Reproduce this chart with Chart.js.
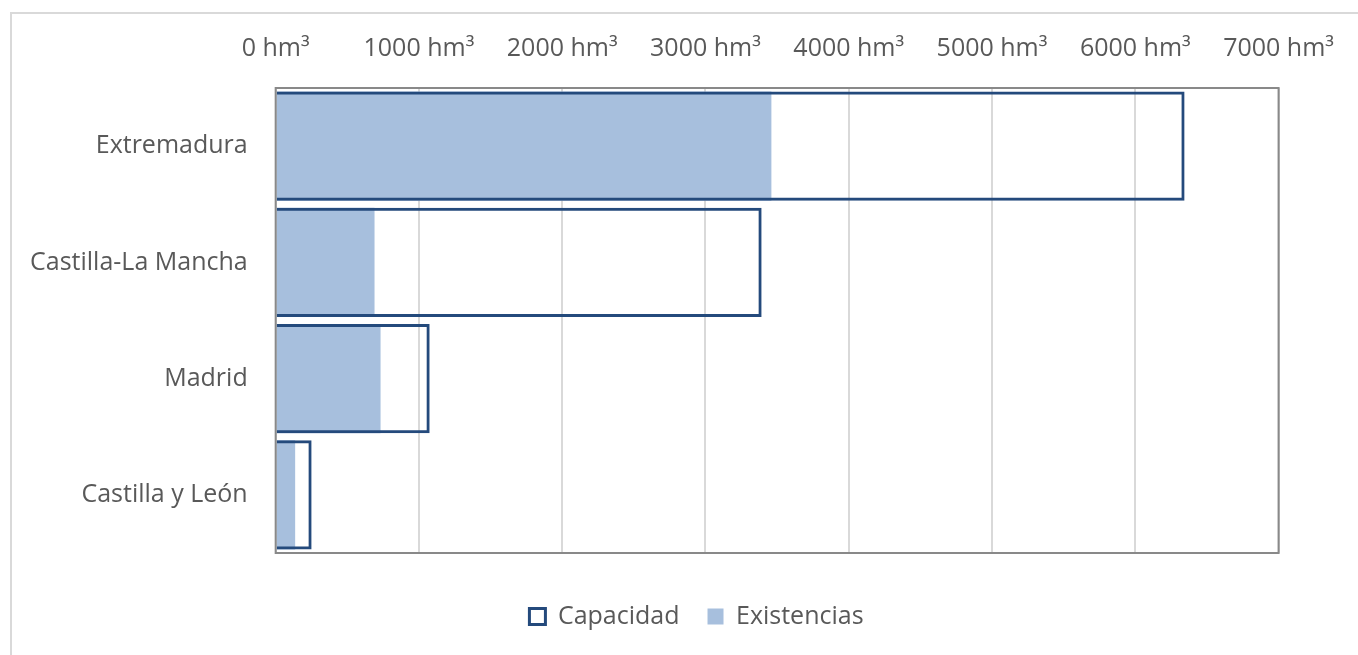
<!DOCTYPE html>
<html>
<head>
<meta charset="utf-8">
<script src="https://cdn.jsdelivr.net/npm/chart.js@4"></script>
<style>
  html, body { margin: 0; padding: 0; background: #fff; }
  body { width: 1358px; height: 655px; position: relative; overflow: hidden; }
  .frame { position: absolute; left: 10px; top: 12px; width: 1400px; height: 700px;
           border-left: 2px solid #d9d9d9; border-top: 2px solid #d9d9d9; }
  .wrap { position: absolute; left: 0; top: 0; width: 1358px; height: 655px; }
</style>
</head>
<body>
<div class="frame"></div>
<div class="wrap"><canvas id="reservoirChart"></canvas></div>
<script>
// Data
const regions = ['Extremadura', 'Castilla-La Mancha', 'Madrid', 'Castilla y León'];
const capacidad = [6344, 3392, 1075, 251];
const existencias = [3460, 690, 732, 136];
const xTicks = [0, 1000, 2000, 3000, 4000, 5000, 6000, 7000];

const textColor = '#595959';
const fontFamily = "'Open Sans', sans-serif";

// Draw the grey box round the plot area
const plotBorder = {
  id: 'plotBorder',
  afterDatasetsDraw(chart) {
    const { ctx, chartArea } = chart;
    ctx.save();
    ctx.strokeStyle = '#898989';
    ctx.lineWidth = 2;
    ctx.strokeRect(chartArea.left, chartArea.top, chartArea.right - chartArea.left, chartArea.bottom - chartArea.top);
    ctx.restore();
  }
};

// nudge the legend a bit to the right, like the original
const legendShift = {
  id: 'legendShift',
  afterLayout(chart) {
    chart.legend.left += 28;
    chart.legend.right += 28;
  }
};

const ctx = document.getElementById('reservoirChart').getContext('2d');
new Chart(ctx, {
  type: 'bar',
  data: {
    labels: regions,
    datasets: [
      {
        label: 'Capacidad',
        data: capacidad,
        backgroundColor: 'rgba(255,255,255,0)',
        borderColor: '#244a7c',
        borderWidth: 3,
        grouped: false,
        barPercentage: 0.94,
        categoryPercentage: 1
      },
      {
        label: 'Existencias',
        data: existencias,
        backgroundColor: '#a7bfdd',
        borderWidth: 0,
        grouped: false,
        barPercentage: 0.94,
        categoryPercentage: 1
      }
    ]
  },
  options: {
    indexAxis: 'y',
    responsive: true,
    maintainAspectRatio: false,
    animation: false,
    layout: { padding: { left: 2, right: 23, top: 10, bottom: 16 } },
    scales: {
      x: {
        position: 'top',
        min: 0,
        max: 7000,
        afterBuildTicks: axis => { axis.ticks = xTicks.map(v => ({ value: v })); },
        ticks: {
          color: textColor,
          font: { family: fontFamily, size: 25 },
          padding: 24,
          callback: v => v + ' hm³'
        },
        grid: { color: '#d9d9d9', lineWidth: 2, drawTicks: false },
        border: { display: false }
      },
      // empty axis, only keeps the gap between plot and legend
      gap: {
        type: 'linear',
        axis: 'x',
        position: 'bottom',
        ticks: { display: false },
        grid: { display: false, drawTicks: false },
        border: { display: false },
        afterFit: s => { s.height = 23; }
      },
      y: {
        ticks: {
          color: textColor,
          font: { family: fontFamily, size: 25 },
          padding: 28
        },
        grid: { display: false, drawTicks: false },
        border: { display: false }
      }
    },
    plugins: {
      legend: {
        position: 'bottom',
        labels: {
          color: textColor,
          font: { family: fontFamily, size: 25 },
          boxWidth: 16,
          boxHeight: 16,
          padding: 28
        }
      },
      tooltip: { enabled: false }
    }
  },
  plugins: [plotBorder, legendShift]
});
</script>
</body>
</html>
